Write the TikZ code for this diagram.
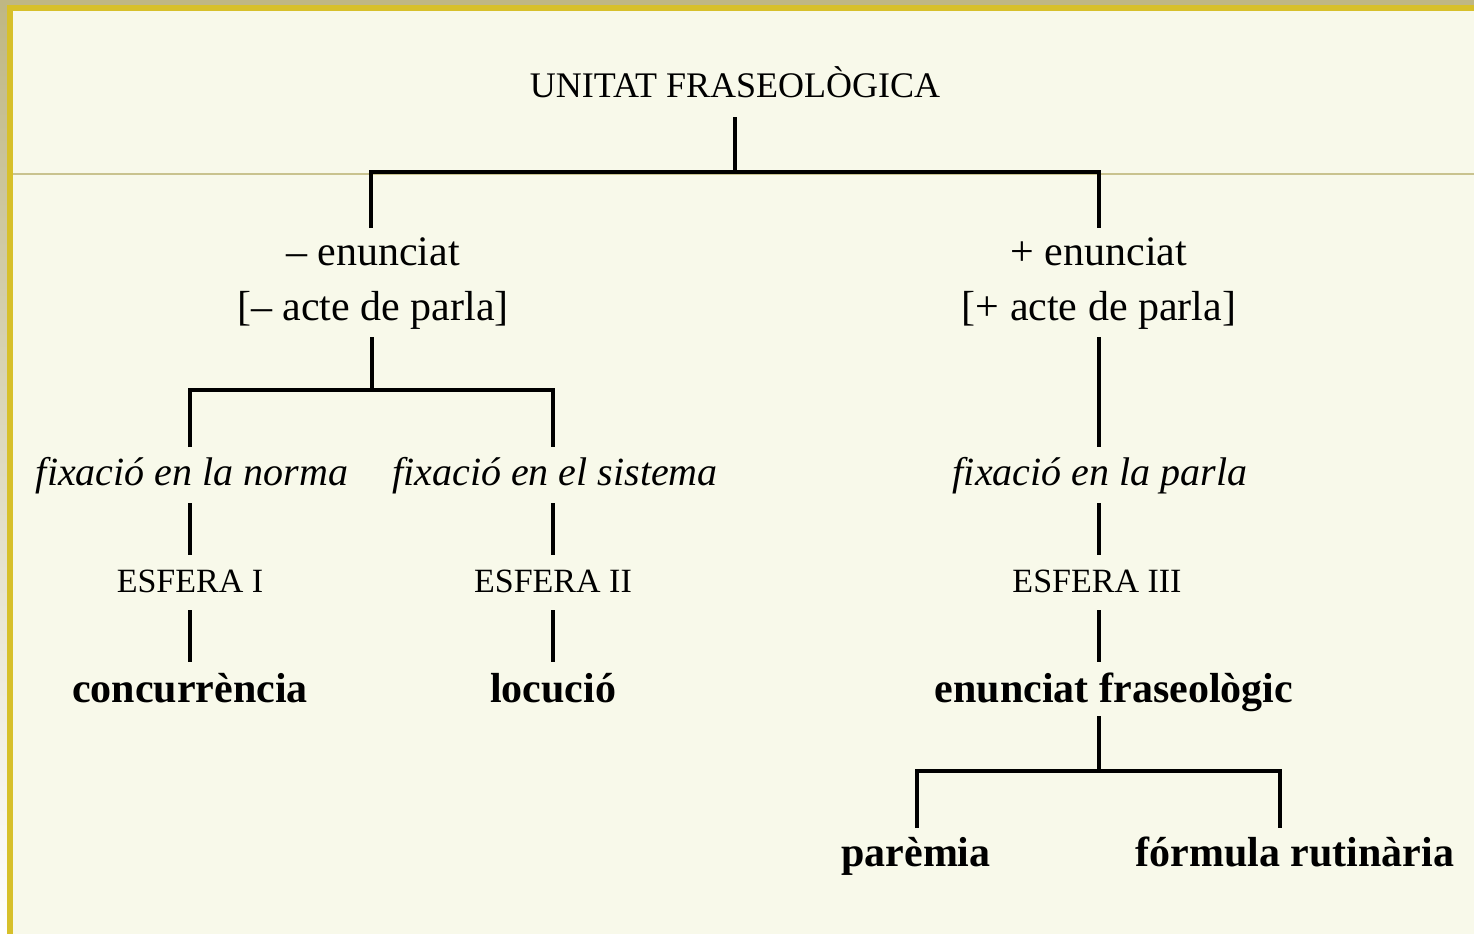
\documentclass[tikz,border=0pt]{standalone}
\usepackage{fontspec}
\setmainfont{Liberation Serif}
\definecolor{tanband}{HTML}{BFB784}
\definecolor{goldb}{HTML}{D7C02A}
\definecolor{creambg}{HTML}{F8F9EA}
\definecolor{sepline}{HTML}{C9C38F}
\tikzset{
  lbl/.style={inner sep=0pt, anchor=base, text=black},
  capsz/.style={lbl, font=\fontsize{36}{40}\selectfont},
  esf/.style={lbl, font=\fontsize{34}{38}\selectfont},
  reg/.style={lbl, font=\fontsize{42}{46}\selectfont},
  ital/.style={lbl, font=\fontsize{40}{44}\selectfont\itshape},
  bld/.style={lbl, font=\fontsize{42}{46}\selectfont\bfseries},
  conn/.style={line width=4pt, black, line join=miter, line cap=butt}
}
\begin{document}
\begin{tikzpicture}[x=1pt,y=-1pt]
\useasboundingbox (0,0) rectangle (1474,934);
% background frame
\fill[tanband] (0,0) rectangle (1474,934);
\shade[top color=tanband, bottom color=white] (0,5) rectangle (7,934);
\fill[goldb] (7,5) rectangle (1474,934);
\fill[creambg] (13,11) rectangle (1474,934);
\draw[sepline, line width=1.5pt] (13,174) -- (1474,174);

% labels
\node[capsz] (root) at (735,97) {UNITAT FRASEOLÒGICA};
\node[reg] (le1) at (373,265) {– enunciat};
\node[reg] (le2) at (373,320) {[– acte de parla]};
\node[reg] (re1) at (1099,265) {+ enunciat};
\node[reg] (re2) at (1099,320) {[+ acte de parla]};
\node[ital] (fn) at (192,485) {fixació en la norma};
\node[ital] (fs) at (555,485) {fixació en el sistema};
\node[ital] (fp) at (1100,485) {fixació en la parla};
\node[esf] (e1) at (190,592) {ESFERA I};
\node[esf] (e2) at (553,592) {ESFERA II};
\node[esf] (e3) at (1097,592) {ESFERA III};
\node[bld] (conc) at (190,702) {concurrència};
\node[bld] (loc) at (553,702) {locució};
\node[bld] (enf) at (1114,702) {enunciat fraseològic};
\node[bld] (par) at (916,866) {parèmia};
\node[bld] (form) at (1295,866) {fórmula rutinària};

% connector points
\coordinate (r0) at (735,117);
\coordinate (r1) at (735,172);
\coordinate (rl) at (371,172);
\coordinate (rr) at (1099,172);
\coordinate (rlb) at (371,228);
\coordinate (rrb) at (1099,228);

\coordinate (l0) at (372,337);
\coordinate (l1) at (372,390);
\coordinate (ll) at (190,390);
\coordinate (lr) at (553,390);
\coordinate (llb) at (190,447);
\coordinate (lrb) at (553,447);

\coordinate (p0) at (1099,337);
\coordinate (p1) at (1099,447);

\coordinate (a0) at (190,503);
\coordinate (a1) at (190,555);
\coordinate (b0) at (553,503);
\coordinate (b1) at (553,555);
\coordinate (c0) at (1099,503);
\coordinate (c1) at (1099,555);

\coordinate (a2) at (190,610);
\coordinate (a3) at (190,662);
\coordinate (b2) at (553,610);
\coordinate (b3) at (553,662);
\coordinate (c2) at (1099,610);
\coordinate (c3) at (1099,662);

\coordinate (d0) at (1099,716);
\coordinate (d1) at (1099,771);
\coordinate (dl) at (917,771);
\coordinate (dr) at (1280,771);
\coordinate (dlb) at (917,828);
\coordinate (drb) at (1280,828);

% connectors
\draw[conn] (r0) -- (r1);
\draw[conn] (rlb) -- (rl) -- (rr) -- (rrb);
\draw[conn] (l0) -- (l1);
\draw[conn] (llb) -- (ll) -- (lr) -- (lrb);
\draw[conn] (p0) -- (p1);
\draw[conn] (a0) -- (a1);
\draw[conn] (b0) -- (b1);
\draw[conn] (c0) -- (c1);
\draw[conn] (a2) -- (a3);
\draw[conn] (b2) -- (b3);
\draw[conn] (c2) -- (c3);
\draw[conn] (d0) -- (d1);
\draw[conn] (dlb) -- (dl) -- (dr) -- (drb);
\end{tikzpicture}
\end{document}
